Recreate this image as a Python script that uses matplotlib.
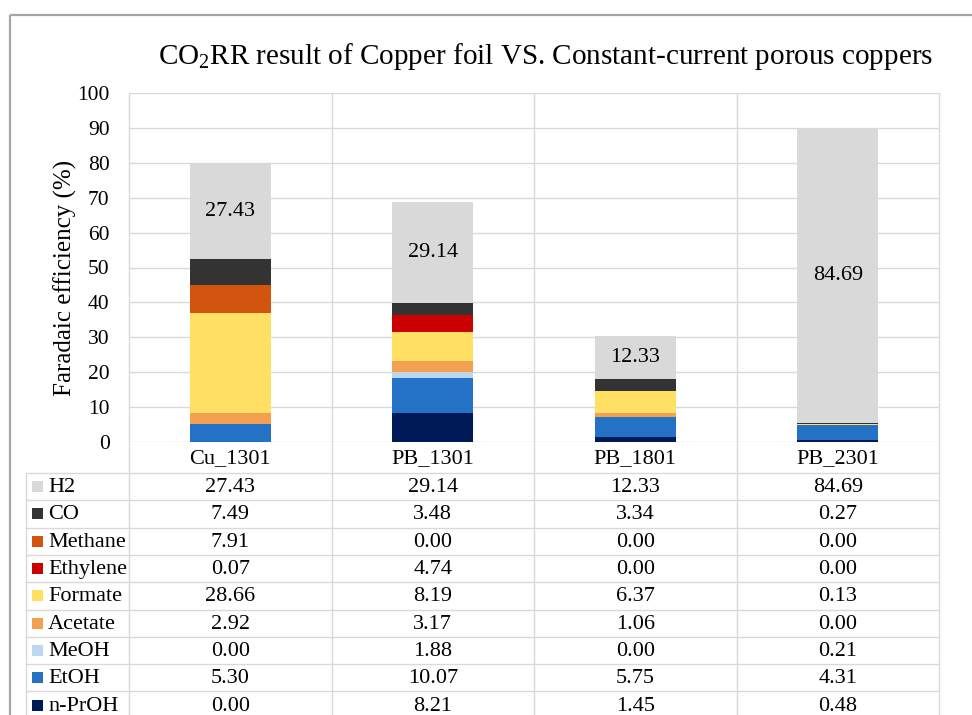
import matplotlib
matplotlib.use("Agg")
import matplotlib.pyplot as plt
import matplotlib.transforms as mtransforms
from matplotlib.patches import Rectangle

plt.rcParams["font.family"] = ["Liberation Serif", "DejaVu Serif"]
plt.rcParams["mathtext.fontset"] = "custom"
plt.rcParams["mathtext.rm"] = "Liberation Serif"

categories = ["Cu_1301", "PB_1301", "PB_1801", "PB_2301"]

# stacking order, bottom to top
products = ["n-PrOH", "EtOH", "MeOH", "Acetate", "Formate", "Ethylene", "Methane", "CO", "H2"]
n_proh = [0.00, 8.21, 1.45, 0.48]
etoh = [5.30, 10.07, 5.75, 4.31]
meoh = [0.00, 1.88, 0.00, 0.21]
acetate = [2.92, 3.17, 1.06, 0.00]
formate = [28.66, 8.19, 6.37, 0.13]
ethylene = [0.07, 4.74, 0.00, 0.00]
methane = [7.91, 0.00, 0.00, 0.00]
co = [7.49, 3.48, 3.34, 0.27]
h2 = [27.43, 29.14, 12.33, 84.69]
series = [n_proh, etoh, meoh, acetate, formate, ethylene, methane, co, h2]
colors = ["#001A57", "#2472C5", "#BDD7EE", "#F4A053", "#FFE063",
          "#CC0000", "#D2540E", "#333333", "#D9D9D9"]

W, H = 972, 715
GRID = "#D9D9D9"


def px(left, top, right, bottom):
    return [left / W, 1 - bottom / H, (right - left) / W, (bottom - top) / H]


fig = plt.figure(figsize=(W / 100, H / 100), dpi=100)

# pixel-space layer for frame and data table
bg = fig.add_axes([0, 0, 1, 1], zorder=0)
bg.set_xlim(0, W)
bg.set_ylim(H, 0)
bg.axis("off")

ax = fig.add_axes(px(129, 93, 939, 442), zorder=1)
ax.patch.set_visible(False)

x = list(range(len(categories)))
bottom = [0.0] * len(categories)
for vals, c in zip(series, colors):
    ax.bar(x, vals, 0.4, bottom=bottom, color=c, linewidth=0, zorder=3)
    bottom = [b + v for b, v in zip(bottom, vals)]

# value labels on the H2 segments
for i, v in enumerate(h2):
    base = bottom[i] - v
    ax.text(i, base + v / 2, f"{v:.2f}", ha="center", va="center",
            fontsize=16, zorder=4)

ax.set_xlim(-0.5, len(categories) - 0.5)
ax.set_ylim(0, 100)
ax.set_yticks(range(0, 101, 10))
ax.set_xticks([])
ax.tick_params(axis="y", length=0, pad=14, labelsize=15.5)
ax.yaxis.grid(True, color=GRID, linewidth=1.0)
ax.set_axisbelow(True)
for s in ax.spines.values():
    s.set_visible(False)

fig.text(65 / W, 1 - 278 / H, "Faradaic efficiency (%)", rotation=90,
         ha="center", va="center", fontsize=18)
fig.text(546 / W, 1 - 57 / H,
         r"CO$_\mathregular{2}$RR result of Copper foil VS. Constant-current porous coppers",
         ha="center", va="center", fontsize=21)

# outer frame
bg.plot([10, W], [14.5, 14.5], color="#A6A6A6", lw=1.6, solid_capstyle="butt")
bg.plot([10, 10], [14.5, H], color="#A6A6A6", lw=1.6, solid_capstyle="butt")

# data table
blend = mtransforms.blended_transform_factory(ax.transData, bg.transData)
header_top, header_bot, row_h = 442, 473, 27.3
rows = list(zip(products, series, colors))[::-1]
n_rows = len(rows)
table_bot = header_bot + n_rows * row_h

for b in range(len(categories) + 1):
    bg.plot([b - 0.5, b - 0.5], [93, table_bot], color=GRID, lw=1.0,
            transform=blend)
bg.plot([26, 26], [header_bot, table_bot], color=GRID, lw=1.0)
for r in range(n_rows + 1):
    y = header_bot + r * row_h
    bg.plot([26, 939], [y, y], color=GRID, lw=1.0)

for i, cat in enumerate(categories):
    bg.text(i, (header_top + header_bot) / 2 + 1, cat, transform=blend,
            ha="center", va="center", fontsize=16)

for r, (name, vals, c) in enumerate(rows):
    yc = header_bot + (r + 0.5) * row_h
    bg.add_patch(Rectangle((32, yc - 5.5), 11, 11, facecolor=c, edgecolor="none"))
    bg.text(48, yc + 1, name, ha="left", va="center", fontsize=16)
    for i, v in enumerate(vals):
        bg.text(i, yc + 1, f"{v:.2f}", transform=blend,
                ha="center", va="center", fontsize=16)

fig.savefig("out.png", dpi=100)
